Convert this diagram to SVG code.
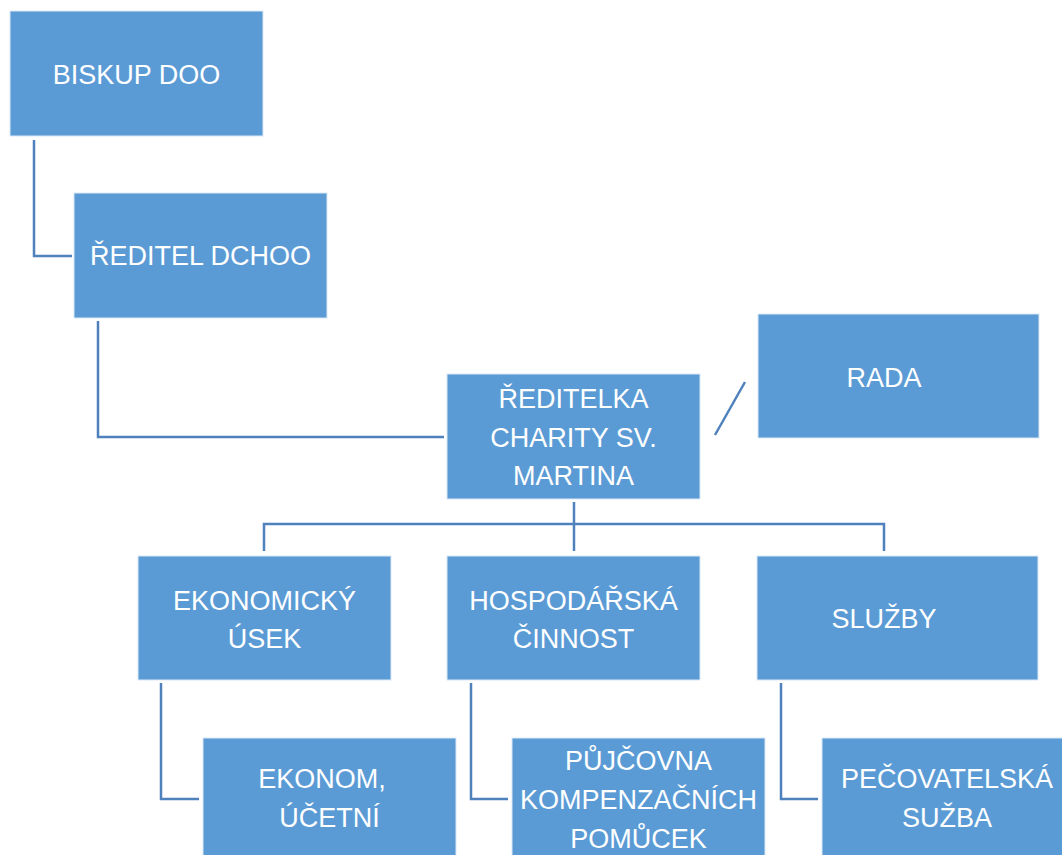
<svg xmlns="http://www.w3.org/2000/svg" width="1062" height="855" viewBox="0 0 1062 855">
<style>
.box{fill:#5B9BD5;stroke:#DCE8F5;stroke-width:1}
.t{font-family:"Liberation Sans",Arial,sans-serif;font-size:27px;fill:#FFFFFF;text-anchor:middle}
.c{fill:none;stroke:#4F81BD;stroke-width:2.5}
</style>
<rect x="0" y="0" width="1062" height="855" fill="#FFFFFF"/>
<g id="connectors">
<polyline class="c" points="34,140 34,256 72,256"/>
<polyline class="c" points="98,321 98,437 444,437"/>
<line class="c" x1="715" y1="435" x2="745" y2="382"/>
<line class="c" x1="574" y1="502" x2="574" y2="551"/>
<polyline class="c" points="264,551 264,524 884,524 884,551"/>
<polyline class="c" points="161,683 161,799 199,799"/>
<polyline class="c" points="471,683 471,799 508,799"/>
<polyline class="c" points="781,683 781,799 818,799"/>
</g>
<g id="biskup">
<rect class="box" x="10" y="11" width="253" height="125"/>
<text class="t" x="136.5" y="84">BISKUP DOO</text>
</g>
<g id="reditel">
<rect class="box" x="74" y="193" width="253" height="125"/>
<text class="t" x="200.5" y="265">ŘEDITEL DCHOO</text>
</g>
<g id="reditelka">
<rect class="box" x="447" y="374" width="253" height="125"/>
<text class="t" x="573.5" y="408">ŘEDITELKA</text>
<text class="t" x="573.5" y="447">CHARITY SV.</text>
<text class="t" x="573.5" y="485">MARTINA</text>
</g>
<g id="rada">
<rect class="box" x="758" y="314" width="281" height="124"/>
<text class="t" x="884" y="387">RADA</text>
</g>
<g id="ekonomicky">
<rect class="box" x="138" y="556" width="253" height="124"/>
<text class="t" x="264.5" y="610">EKONOMICKÝ</text>
<text class="t" x="264.5" y="648">ÚSEK</text>
</g>
<g id="hospodarska">
<rect class="box" x="447" y="556" width="253" height="124"/>
<text class="t" x="573.5" y="610">HOSPODÁŘSKÁ</text>
<text class="t" x="573.5" y="648">ČINNOST</text>
</g>
<g id="sluzby">
<rect class="box" x="757" y="556" width="281" height="124"/>
<text class="t" x="884" y="628">SLUŽBY</text>
</g>
<g id="ekonom">
<rect class="box" x="203" y="738" width="253" height="125"/>
<text class="t" x="322" y="788">EKONOM,</text>
<text class="t" x="329.5" y="827">ÚČETNÍ</text>
</g>
<g id="pujcovna">
<rect class="box" x="512" y="738" width="253" height="125"/>
<text class="t" x="638.5" y="770">PŮJČOVNA</text>
<text class="t" x="638.5" y="809">KOMPENZAČNÍCH</text>
<text class="t" x="638.5" y="848">POMŮCEK</text>
</g>
<g id="pecovatelska">
<rect class="box" x="822" y="738" width="260" height="125"/>
<text class="t" x="947" y="788">PEČOVATELSKÁ</text>
<text class="t" x="947" y="827">SUŽBA</text>
</g>
</svg>
